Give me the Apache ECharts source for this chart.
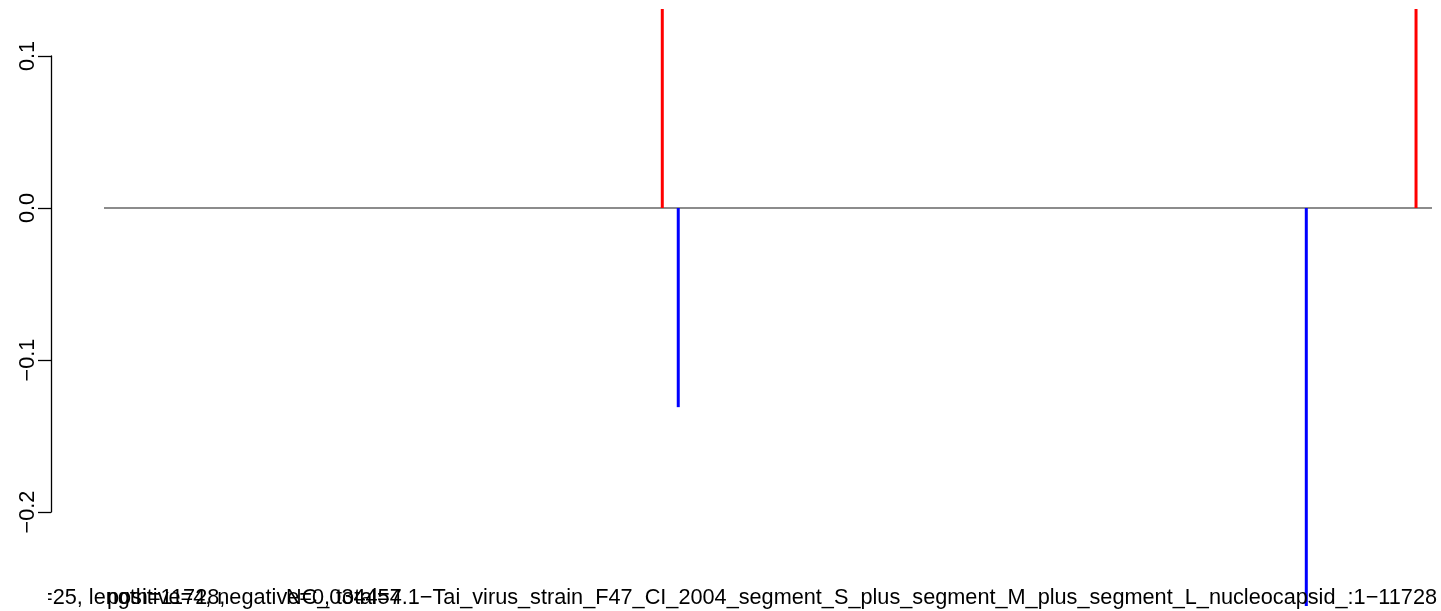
<!DOCTYPE html>
<html>
<head>
<meta charset="utf-8">
<script src="https://cdn.jsdelivr.net/npm/echarts@6/dist/echarts.min.js"></script>
<style>
  html, body { margin: 0; padding: 0; background: #ffffff; }
  #chart { width: 1441px; height: 611px; }
</style>
</head>
<body>
<div id="chart"></div>
<script>
// ---- data ----
var seqStart = 1;
var seqEnd = 11728;
var posX = [4931, 11587];
var posY = [0.131, 0.131];
var negX = [5072, 10618];
var negY = [-0.131, -0.2618];
var yTicks = [-0.2, -0.1, 0.0, 0.1];
var windowSize = 25;
var countPositive = 4;
var countNegative = 0;
var countTotal = 4;
var seqName = 'NC_034457.1\u2212Tai_virus_strain_F47_CI_2004_segment_S_plus_segment_M_plus_segment_L_nucleocapsid_';

var FONT = 'Liberation Sans, Arial, Helvetica, sans-serif';
var FS = 21.7;

var barItems = [];
posX.forEach(function (x, i) {
  barItems.push({ value: [x, posY[i]], itemStyle: { color: '#ff0000' } });
});
negX.forEach(function (x, i) {
  barItems.push({ value: [x, negY[i]], itemStyle: { color: '#0000ff' } });
});

var chart = echarts.init(document.getElementById('chart'), null, { renderer: 'canvas' });

var option = {
  backgroundColor: '#ffffff',
  animation: false,
  grid: [
    { left: 104, right: 9, top: 9, bottom: 5 },
    { left: 51, width: 1, top: 56, bottom: 99 }
  ],
  xAxis: [
    { type: 'value', gridIndex: 0, min: seqStart, max: seqEnd, show: false },
    { type: 'value', gridIndex: 1, min: 0, max: 1, show: false }
  ],
  yAxis: [
    { type: 'value', gridIndex: 0, min: -0.2618, max: 0.1309, show: false },
    {
      type: 'value', gridIndex: 1,
      min: yTicks[0], max: yTicks[yTicks.length - 1], interval: 0.1,
      splitLine: { show: false },
      axisLine: { show: true, lineStyle: { color: '#000000', width: 1.3 } },
      axisTick: { show: true, length: 13, lineStyle: { color: '#000000', width: 1.3 } },
      axisLabel: {
        show: true, rotate: 90, margin: 12,
        color: '#000000', fontSize: FS, fontFamily: FONT,
        formatter: function (v) {
          var r = Math.round(v * 10) / 10;
          if (Math.abs(r) < 1e-9) return '0.0';
          return (r < 0 ? '\u2212' : '') + Math.abs(r).toFixed(1);
        }
      }
    }
  ],
  series: [
    {
      type: 'line', xAxisIndex: 0, yAxisIndex: 0,
      data: [[seqStart, 0], [seqEnd, 0]],
      symbol: 'none', silent: true,
      lineStyle: { color: '#666666', width: 1.4 },
      z: 1
    },
    {
      type: 'bar', xAxisIndex: 0, yAxisIndex: 0,
      data: barItems,
      barWidth: 3,
      silent: true,
      z: 2
    }
  ],
  graphic: [
    {
      type: 'text', x: 40, y: 598, z: 10,
      style: {
        text: '=' + windowSize + ', length=' + seqEnd + ',',
        fill: '#000000', font: FS + 'px ' + FONT,
        align: 'left', verticalAlign: 'middle',
        textAlign: 'left', textVerticalAlign: 'middle'
      }
    },
    {
      type: 'text', x: 107, y: 598, z: 10,
      style: {
        text: 'positive=' + countPositive + ', negative=' + countNegative + ', total=' + countTotal,
        fill: '#000000', font: FS + 'px ' + FONT,
        align: 'left', verticalAlign: 'middle',
        textAlign: 'left', textVerticalAlign: 'middle'
      }
    },
    {
      type: 'text', x: 1437, y: 598, z: 10,
      style: {
        text: seqName + ':' + seqStart + '\u2212' + seqEnd,
        fill: '#000000', font: FS + 'px ' + FONT,
        align: 'right', verticalAlign: 'middle',
        textAlign: 'right', textVerticalAlign: 'middle'
      }
    },
    {
      type: 'rect', z: 20,
      shape: { x: 0, y: 582, width: 48, height: 29 },
      style: { fill: '#ffffff' }
    }
  ]
};

chart.setOption(option);
</script>
</body>
</html>
